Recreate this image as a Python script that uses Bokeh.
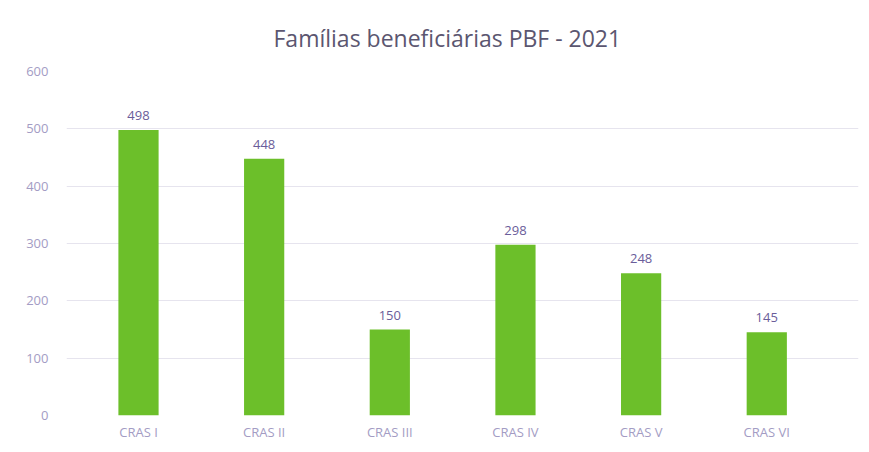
from bokeh.plotting import figure
from bokeh.models import ColumnDataSource, Range1d, FixedTicker, LabelSet
from bokeh.core.properties import value
from bokeh.embed import file_html
from bokeh.resources import INLINE

categories = ["CRAS I", "CRAS II", "CRAS III", "CRAS IV", "CRAS V", "CRAS VI"]
values = [498, 448, 150, 298, 248, 145]
y_ticks = [0, 100, 200, 300, 400, 500, 600]

pos = list(range(len(categories)))
src = ColumnDataSource(dict(x=pos, val=values, lab=[str(v) for v in values]))

p = figure(width=860, height=443, output_backend="svg", toolbar_location=None,
           x_range=Range1d(-0.573, len(categories) - 1 + 0.73),
           y_range=Range1d(0, 600),
           title="Famílias beneficiárias PBF - 2021",
           min_border_left=66, min_border_right=2, min_border_top=71, min_border_bottom=20)

p.vbar(x="x", top="val", width=0.32, source=src, color="#6cbf2a", line_color=None)

labels = LabelSet(x="x", y="val", text="lab", source=src, text_align="center",
                  text_baseline="bottom", y_offset=10, text_font_size="13px",
                  text_color="#6a5d9a", text_font=value("Open Sans"))
p.add_layout(labels)

p.title.align = "left"
p.title.text_font = "Open Sans"
p.title.text_font_size = "23px"
p.title.text_font_style = "normal"
p.title.text_color = "#5b5670"
p.title.offset = 207
p.title.standoff = 36

p.yaxis.ticker = FixedTicker(ticks=y_ticks)
p.yaxis.axis_line_color = None
p.yaxis.major_tick_line_color = None
p.yaxis.minor_tick_line_color = None
p.yaxis.major_label_text_color = "#a39cc4"
p.yaxis.major_label_text_font = "Open Sans"
p.yaxis.major_label_text_font_size = "13px"
p.yaxis.major_label_standoff = 12

p.xaxis.ticker = FixedTicker(ticks=pos)
p.xaxis.major_label_overrides = {i: c for i, c in zip(pos, categories)}
p.xaxis.axis_line_color = None
p.xaxis.major_tick_line_color = None
p.xaxis.minor_tick_line_color = None
p.xaxis.major_label_text_color = "#a39cc4"
p.xaxis.major_label_text_font = "Open Sans"
p.xaxis.major_label_text_font_size = "13px"
p.xaxis.major_label_standoff = 1

p.xgrid.grid_line_color = None
p.ygrid.grid_line_color = "#e6e4ee"
p.outline_line_color = None
p.border_fill_color = "white"

open("out.html", "w").write(file_html(p, INLINE))
